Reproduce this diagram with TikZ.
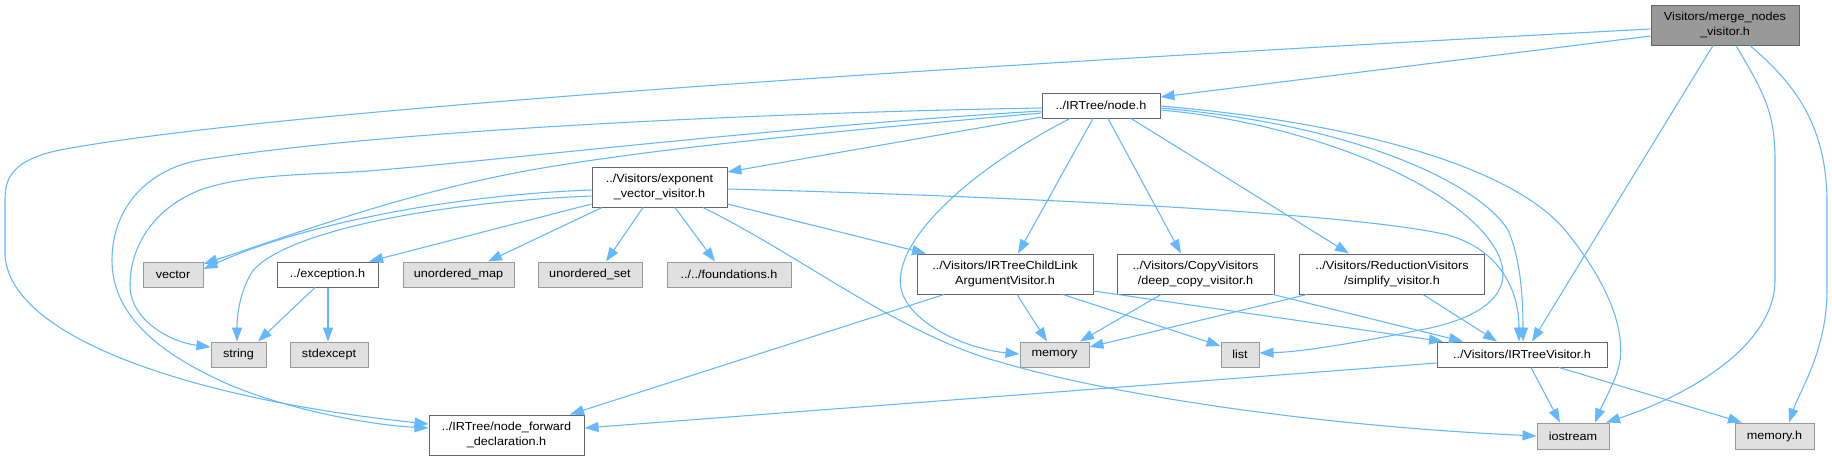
\documentclass[tikz,border=0pt]{standalone}
\usepackage{fontspec}
\setmainfont{Liberation Sans}[FakeStretch=1.09]
\usetikzlibrary{arrows.meta}
\definecolor{edgec}{HTML}{63B8FF}
\definecolor{bord}{HTML}{666666}
\definecolor{sysfill}{HTML}{E0E0E0}
\definecolor{sysbord}{HTML}{999999}
\definecolor{rootfill}{HTML}{999999}
\begin{document}
\begin{tikzpicture}[x=0.75pt,y=-0.75pt,
  base/.style={draw, line width=0.75pt, inner sep=0pt, align=center,
    font=\fontsize{8.7pt}{11.25pt}\selectfont, text=black},
  filebox/.style={base, draw=bord, fill=white},
  sysbox/.style={base, draw=sysbord, fill=sysfill},
  rootbox/.style={base, draw=bord, fill=rootfill},
  sz/.style 2 args={minimum width=#1*0.75pt, minimum height=#2*0.75pt},
  edge/.style={draw=edgec, line width=0.8pt, -{Triangle[length=10.5pt,width=7.5pt]}}
]
\fill[white] (0,0) rectangle (1832,461);
\useasboundingbox (0,0) rectangle (1832,461);

% nodes
\node[rootbox, sz={148}{40}] (merge) at (1725,25) {Visitors/merge\_nodes\\\_visitor.h};
\node[filebox, sz={118}{25}] (nodeh) at (1101,105.5) {../IRTree/node.h};
\node[filebox, sz={135}{40}] (expo) at (659.5,187) {../Visitors/exponent\\\_vector\_visitor.h};
\node[sysbox, sz={60}{25}] (vector) at (173,274.5) {vector};
\node[filebox, sz={101}{25}] (exception) at (327.5,274.5) {../exception.h};
\node[sysbox, sz={111}{25}] (umap) at (458.5,274.5) {unordered\_map};
\node[sysbox, sz={104}{25}] (uset) at (590,274.5) {unordered\_set};
\node[sysbox, sz={124}{25}] (found) at (729,274.5) {../../foundations.h};
\node[filebox, sz={176}{40}] (childlink) at (1005,274) {../Visitors/IRTreeChildLink\\ArgumentVisitor.h};
\node[filebox, sz={157}{40}] (deepcopy) at (1195.5,274) {../Visitors/CopyVisitors\\/deep\_copy\_visitor.h};
\node[filebox, sz={185}{40}] (simplify) at (1392,274) {../Visitors/ReductionVisitors\\/simplify\_visitor.h};
\node[sysbox, sz={55}{25}] (string) at (238.5,354.5) {string};
\node[sysbox, sz={78}{25}] (stdexcept) at (329,354.5) {stdexcept};
\node[sysbox, sz={69}{25}] (memory) at (1054.5,354.5) {memory};
\node[sysbox, sz={38}{25}] (list) at (1240,354.5) {list};
\node[filebox, sz={170}{25}] (irtv) at (1522,354.5) {../Visitors/IRTreeVisitor.h};
\node[filebox, sz={155}{40}] (nodefwd) at (506.5,435) {../IRTree/node\_forward\\\_declaration.h};
\node[sysbox, sz={72}{26}] (iostream) at (1573,436) {iostream};
\node[sysbox, sz={79}{26}] (memoryh) at (1774.5,436) {memory.h};

% edges from merge_nodes_visitor.h
\draw[edge] (merge.west |- 0,36) -- (nodeh.east |- 0,97);
\draw[edge] (merge.west |- 0,29) .. controls (1100,58) and (300,105) .. (60,150)
  .. controls (12,160) and (5,178) .. (5,200) -- (5,255)
  .. controls (10,340) and (200,400) .. (nodefwd.west |- 0,424);
\draw[edge] (merge.south -| 1713,0) -- (irtv.north -| 1532,0);
\draw[edge] (merge.south -| 1736,0) .. controls (1762,90) and (1775,110) .. (1775,160) -- (1775,280)
  .. controls (1775,345) and (1690,395) .. (iostream.north -| 1606,0);
\draw[edge] (merge.south -| 1750,0) .. controls (1790,80) and (1826,120) .. (1827,200) -- (1827,290)
  .. controls (1827,350) and (1800,390) .. (memoryh.north -| 1789,0);

% edges from node.h
\draw[edge] (nodeh.west |- 0,117) -- (expo.east |- 0,172);
\draw[edge] (nodeh.west |- 0,113) .. controls (850,130) and (650,148) .. (520,172)
  .. controls (400,195) and (300,232) .. (vector.east |- 0,264);
\draw[edge] (nodeh.west |- 0,111) .. controls (800,125) and (500,160) .. (380,170)
  .. controls (330,175) and (250,172) .. (200,190)
  .. controls (150,210) and (130,250) .. (130,285)
  .. controls (130,320) and (170,342) .. (string.west |- 0,347);
\draw[edge] (nodeh.west |- 0,108) .. controls (800,112) and (400,128) .. (200,160)
  .. controls (145,170) and (112,210) .. (112,260)
  .. controls (112,310) and (150,350) .. (230,385)
  .. controls (290,410) and (370,425) .. (nodefwd.west |- 0,428);
\draw[edge] (nodeh.south -| 1070,0) .. controls (960,175) and (885,250) .. (903,295)
  .. controls (918,330) and (975,350) .. (memory.west |- 0,354);
\draw[edge] (nodeh.south -| 1093,0) -- (childlink.north -| 1018,0);
\draw[edge] (nodeh.south -| 1108,0) -- (deepcopy.north -| 1181,0);
\draw[edge] (nodeh.south -| 1131,0) -- (simplify.north -| 1349,0);
\draw[edge] (nodeh.east |- 0,110) .. controls (1300,122) and (1450,180) .. (1493,245)
  .. controls (1522,290) and (1485,318) .. (1420,330)
  .. controls (1350,344) and (1300,352) .. (list.east |- 0,353);
\draw[edge] (nodeh.east |- 0,108) .. controls (1360,125) and (1480,185) .. (1508,230)
  .. controls (1521,260) and (1523,300) .. (irtv.north -| 1523,0);
\draw[edge] (nodeh.east |- 0,106) .. controls (1350,122) and (1510,165) .. (1565,230)
  .. controls (1610,285) and (1632,340) .. (1615,378)
  .. controls (1607,397) and (1600,410) .. (iostream.north -| 1595,0);

% edges from exponent_vector_visitor.h
\draw[edge] (expo.west |- 0,190) .. controls (450,195) and (300,225) .. (vector.east |- 0,269);
\draw[edge] (expo.west |- 0,196) .. controls (420,203) and (280,235) .. (252,272)
  .. controls (238,295) and (237,320) .. (string.north -| 237,0);
\draw[edge] (expo.west |- 0,204) -- (exception.north -| 369,0);
\draw[edge] (expo.south -| 602,0) -- (umap.north -| 488,0);
\draw[edge] (expo.south -| 643,0) -- (uset.north -| 606,0);
\draw[edge] (expo.south -| 675,0) -- (found.north -| 715,0);
\draw[edge] (expo.south -| 703,0) .. controls (800,255) and (900,335) .. (1000,362)
  .. controls (1100,392) and (1300,425) .. (iostream.west |- 0,436);
\draw[edge] (expo.east |- 0,204) -- (childlink.north -| 926,0);
\draw[edge] (expo.east |- 0,189) .. controls (1000,196) and (1350,212) .. (1448,235)
  .. controls (1500,250) and (1519,290) .. (irtv.north -| 1519,0);

% edges from exception.h
\draw[edge] (exception.south -| 315,0) -- (string.north -| 258,0);
\draw[edge] (exception.south -| 328,0) -- (stdexcept.north -| 328,0);

% edges from IRTreeChildLinkArgumentVisitor.h
\draw[edge] (childlink.south -| 944,0) -- (nodefwd.north -| 570,0);
\draw[edge] (childlink.south -| 1017,0) -- (memory.north -| 1047,0);
\draw[edge] (childlink.south -| 1063,0) -- (list.west |- 0,346);
\draw[edge] (childlink.east |- 0,291) -- (irtv.north -| 1443,0);

% edges from deep_copy_visitor.h
\draw[edge] (deepcopy.south -| 1161,0) -- (memory.north -| 1080,0);
\draw[edge] (deepcopy.south -| 1273,0) -- (irtv.north -| 1463,0);

% edges from simplify_visitor.h
\draw[edge] (simplify.south -| 1307,0) -- (memory.east |- 0,347);
\draw[edge] (simplify.south -| 1423,0) -- (irtv.north -| 1497,0);

% edges from IRTreeVisitor.h
\draw[edge] (irtv.west |- 0,363) -- (nodefwd.east |- 0,428);
\draw[edge] (irtv.south -| 1531,0) -- (iostream.north -| 1560,0);
\draw[edge] (irtv.south -| 1559,0) -- (memoryh.north -| 1742,0);
\end{tikzpicture}
\end{document}
